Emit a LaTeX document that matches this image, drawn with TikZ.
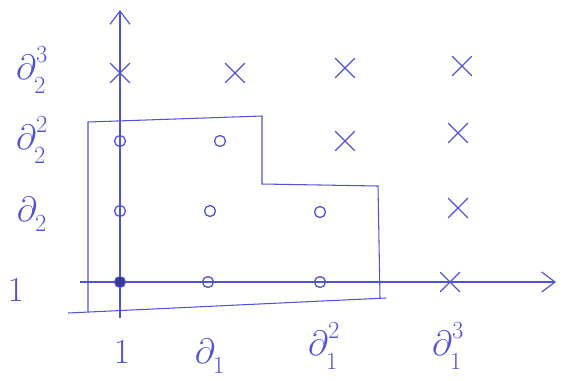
\RequirePackage{fix-cm}
\documentclass[tikz,border=0pt]{standalone}
\usetikzlibrary{arrows.meta,shapes.misc}
\definecolor{ink}{RGB}{82,82,215}
\newcommand{\dsub}[2]{\partial^{\raisebox{4pt}{$\scriptstyle #2$}}_{\raisebox{-4pt}{$\scriptstyle #1$}}}
\begin{document}
\begin{tikzpicture}[
  x=0.03cm, y=-0.03cm,
  line width=0.9pt, draw=ink,
  ring/.style={draw=ink, circle, inner sep=0pt, minimum size=0.33cm, line width=1.1pt},
  hit/.style={draw=ink, fill=ink!70!black, circle, inner sep=0pt, minimum size=0.33cm},
  miss/.style={draw=ink, cross out, inner sep=0pt, minimum size=0.55cm, line width=1.1pt},
  lbl/.style={text=ink, font=\fontsize{30}{32}\selectfont},
  axis/.style={draw=ink, line width=1pt, -{Straight Barb[length=4mm, width=6mm]}}
]
\useasboundingbox (0,0) rectangle (562,380);
% axes
\coordinate (ybot) at (120,318);
\coordinate (ytop) at (120,10);
\coordinate (xleft) at (80,282);
\coordinate (xright) at (556,282);
\draw[axis] (ybot) -- (ytop);
\draw[axis] (xleft) -- (xright);
% staircase region
\draw[ink] (88,312) -- (88,122) -- (262,116) -- (262,184) -- (378,186) -- (380,298);
\draw[ink] (68,313) -- (386,298);
% monomials inside
\node[hit]  (m00) at (120,282) {};
\node[ring] (m10) at (208,282) {};
\node[ring] (m20) at (320,282) {};
\node[ring] (m01) at (120,211) {};
\node[ring] (m11) at (210,211) {};
\node[ring] (m21) at (320,212) {};
\node[ring] (m02) at (120,141) {};
\node[ring] (m12) at (220,141) {};
% monomials outside
\node[miss] (m30) at (450,282) {};
\node[miss] (m31) at (458,208) {};
\node[miss] (m32) at (458,133) {};
\node[miss] (m22) at (345,141) {};
\node[miss] (m03) at (120,73) {};
\node[miss] (m13) at (235,73) {};
\node[miss] (m23) at (345,68) {};
\node[miss] (m33) at (462,66) {};
% labels
\node[lbl] (l0) at (16,290) {$1$};
\node[lbl] (l1) at (32,214) {$\partial_{\raisebox{-4pt}{$\scriptstyle 2$}}$};
\node[lbl] (l2) at (32,140) {$\dsub{2}{2}$};
\node[lbl] (l3) at (32,70) {$\dsub{2}{3}$};
\node[lbl] (k0) at (122,352) {$1$};
\node[lbl] (k1) at (210,356) {$\partial_{\raisebox{-4pt}{$\scriptstyle 1$}}$};
\node[lbl] (k2) at (324,346) {$\dsub{1}{2}$};
\node[lbl] (k3) at (448,346) {$\dsub{1}{3}$};
\end{tikzpicture}
\end{document}
